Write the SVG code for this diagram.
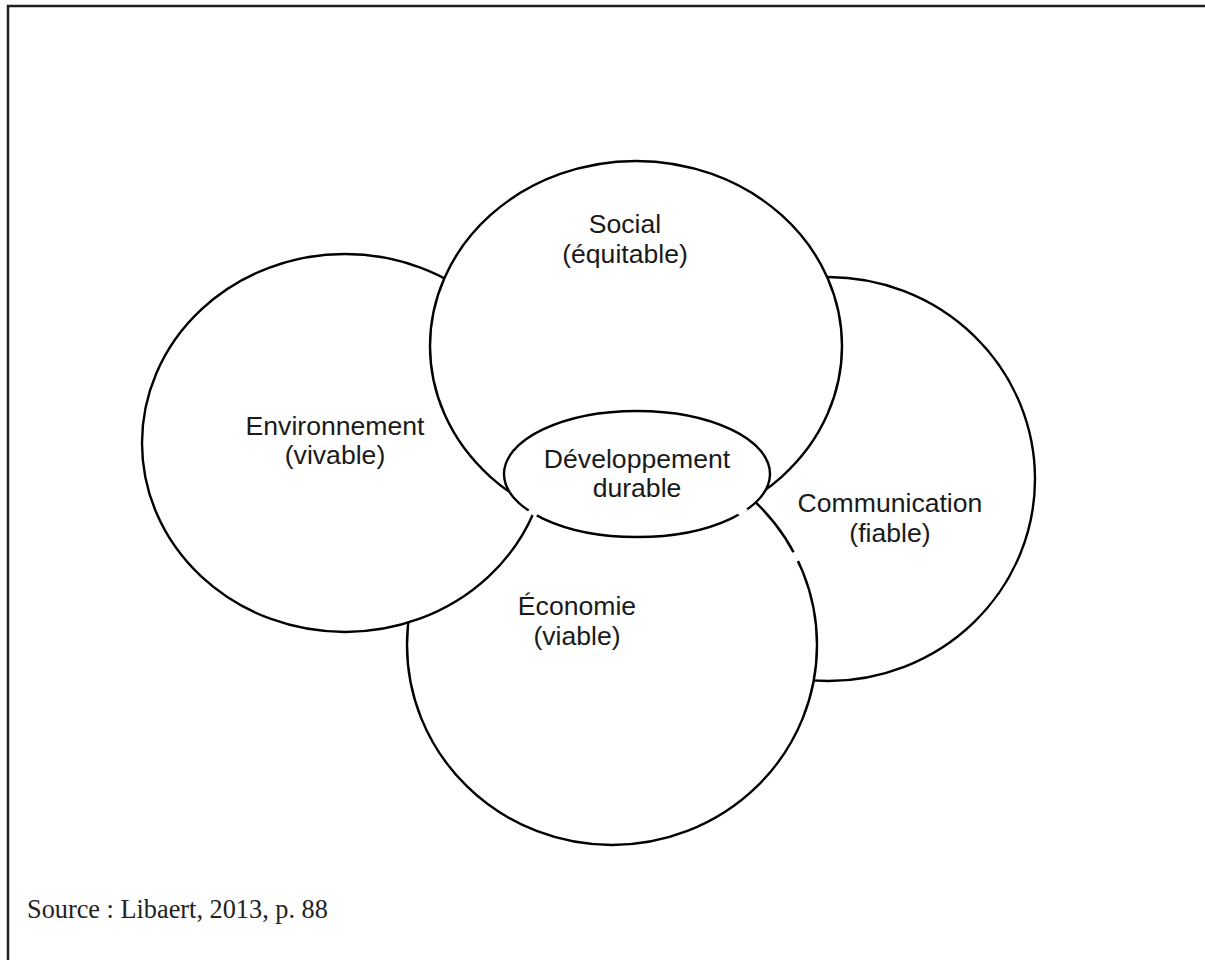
<svg xmlns="http://www.w3.org/2000/svg" width="1205" height="960" viewBox="0 0 1205 960">
<style>
.shape{fill:#fff;stroke:#000;stroke-width:2.4}
.lbl{font-family:"Liberation Sans",Arial,sans-serif;font-size:26.6px;fill:#1a1a1a;text-anchor:middle}
.src{font-family:"Liberation Serif","Times New Roman",serif;font-size:26.3px;fill:#222}
.gap{stroke:#fff;stroke-width:5;fill:none}
</style>
<rect width="1205" height="960" fill="#fff"/>
<path d="M8,960 V6 H1205" fill="none" stroke="#231f20" stroke-width="2.5"/>
<g id="communication">
<ellipse class="shape" cx="828" cy="479" rx="207" ry="202"/>
<text class="lbl" x="890" y="512">Communication</text>
<text class="lbl" x="890" y="542">(fiable)</text>
</g>
<g id="economie">
<ellipse class="shape" cx="612" cy="645" rx="205" ry="200"/>
<text class="lbl" x="577" y="615">Économie</text>
<text class="lbl" x="577" y="645">(viable)</text>
</g>
<g id="environnement">
<ellipse class="shape" cx="345" cy="443" rx="203" ry="189"/>
<text class="lbl" x="335" y="435">Environnement</text>
<text class="lbl" x="335" y="464">(vivable)</text>
</g>
<g id="social">
<ellipse class="shape" cx="636" cy="346" rx="206" ry="185"/>
<text class="lbl" x="625" y="233">Social</text>
<text class="lbl" x="625" y="263">(équitable)</text>
</g>
<g id="developpement">
<ellipse class="shape" cx="637" cy="474" rx="133" ry="63"/>
<text class="lbl" x="637" y="468">Développement</text>
<text class="lbl" x="637" y="497">durable</text>
</g>
<g id="gaps">
<line class="gap" x1="529" y1="510" x2="537" y2="515"/>
<line class="gap" x1="739" y1="515" x2="746" y2="508"/>
<line class="gap" x1="794" y1="552" x2="798" y2="561"/>
</g>
<text class="src" x="27" y="918">Source : Libaert, 2013, p. 88</text>
</svg>
